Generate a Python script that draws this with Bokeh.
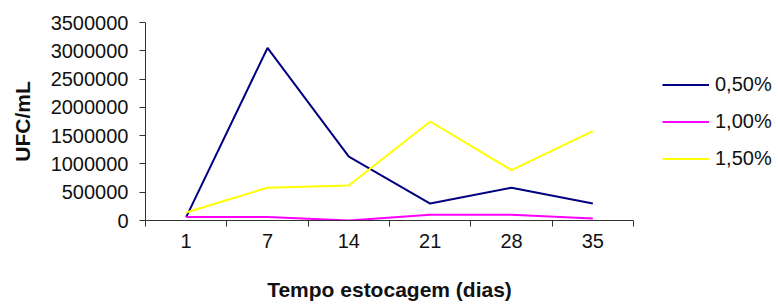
from bokeh.plotting import figure
from bokeh.layouts import row
from bokeh.models import Range1d, FixedTicker, BasicTickFormatter, Legend, LegendItem
from bokeh.embed import file_html
from bokeh.resources import INLINE

days = ["1", "7", "14", "21", "28", "35"]
s050 = [60000, 3050000, 1130000, 300000, 580000, 300000]
s100 = [60000, 60000, 0, 100000, 100000, 35000]
s150 = [140000, 580000, 620000, 1750000, 890000, 1580000]
series_names = ["0,50%", "1,00%", "1,50%"]
colors = ["#000080", "#FF00FF", "#FFFF00"]
y_ticks = [0, 500000, 1000000, 1500000, 2000000, 2500000, 3000000, 3500000]

FONT = "Liberation Sans"

p = figure(width=657, height=305, output_backend="svg", toolbar_location=None,
           x_range=Range1d(0, len(days)), y_range=Range1d(0, 3500000),
           min_border_left=145, min_border_right=24, min_border_top=22, min_border_bottom=85)
p.outline_line_color = None
p.xgrid.visible = False
p.ygrid.visible = False

xs = [i + 0.5 for i in range(len(days))]
for vals, c in zip([s050, s100, s150], colors):
    p.line(xs, vals, line_color=c, line_width=2)

# x axis: labels at category centers, tick marks at boundaries
p.xaxis.ticker = FixedTicker(ticks=xs, minor_ticks=list(range(len(days) + 1)))
p.xaxis.major_label_overrides = {x: d for x, d in zip(xs, days)}
p.xaxis.major_tick_out = 0
p.xaxis.major_tick_in = 0
p.xaxis.minor_tick_out = 6
p.xaxis.minor_tick_in = 0
p.xaxis.minor_tick_line_color = "#333333"
p.xaxis.axis_line_color = "#333333"
p.xaxis.major_label_text_font = FONT
p.xaxis.major_label_text_font_size = "20px"
p.xaxis.major_label_text_color = "#111111"
p.xaxis.major_label_standoff = 7
p.xaxis.axis_label = "Tempo estocagem (dias)"
p.xaxis.axis_label_text_font = FONT
p.xaxis.axis_label_text_font_size = "21px"
p.xaxis.axis_label_text_font_style = "bold"
p.xaxis.axis_label_text_color = "#111111"
p.xaxis.axis_label_standoff = 27

p.yaxis.ticker = FixedTicker(ticks=y_ticks, minor_ticks=[])
p.yaxis.formatter = BasicTickFormatter(use_scientific=False)
p.yaxis.major_tick_out = 6
p.yaxis.major_tick_in = 0
p.yaxis.major_tick_line_color = "#333333"
p.yaxis.axis_line_color = "#333333"
p.yaxis.major_label_text_font = FONT
p.yaxis.major_label_text_font_size = "20px"
p.yaxis.major_label_text_color = "#111111"
p.yaxis.major_label_standoff = 11
p.yaxis.axis_label = "UFC/mL"
p.yaxis.axis_label_text_font = FONT
p.yaxis.axis_label_text_font_size = "21px"
p.yaxis.axis_label_text_font_style = "bold"
p.yaxis.axis_label_text_color = "#111111"
p.yaxis.axis_label_standoff = 14

# separate legend panel; same top/bottom borders as the chart so rows stay aligned
pl = figure(width=121, height=305, output_backend="svg", toolbar_location=None,
            x_range=Range1d(10, 11), y_range=Range1d(10, 11),
            min_border_left=5, min_border_right=0, min_border_top=22, min_border_bottom=85)
pl.axis.visible = False
pl.grid.visible = False
pl.outline_line_color = None
pl.background_fill_alpha = 0
leg_renderers = [pl.line([0], [0], line_color=c, line_width=2) for c in colors]

legend = Legend(items=[LegendItem(label=n, renderers=[r]) for n, r in zip(series_names, leg_renderers)],
                location="left", padding=0, margin=0, border_line_color=None,
                background_fill_alpha=0, glyph_width=47, glyph_height=20, label_height=20,
                spacing=14, label_standoff=6, label_text_font=FONT,
                label_text_font_size="20px", label_text_color="#111111")
pl.add_layout(legend, "center")

layout = row(p, pl)
open("out.html", "w").write(file_html(layout, INLINE))
